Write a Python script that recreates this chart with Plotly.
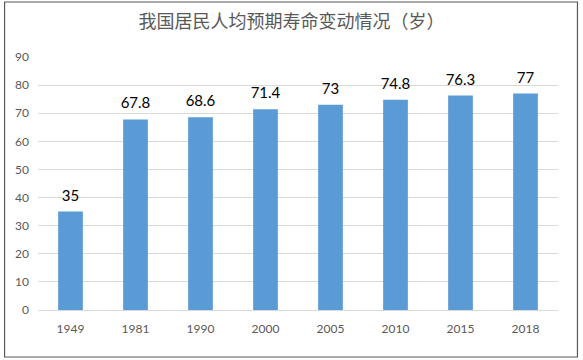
import plotly.graph_objects as go

years = ["1949", "1981", "1990", "2000", "2005", "2010", "2015", "2018"]
life_expectancy = [35, 67.8, 68.6, 71.4, 73, 74.8, 76.3, 77]
y_ticks = [0, 10, 20, 30, 40, 50, 60, 70, 80, 90]
title_text = "我国居民人均预期寿命变动情况（岁）"

W, H = 583, 360
ml, mr, mt, mb = 37.5, 24.5, 57, 50
pw = W - ml - mr
ph = H - mt - mb

def px_x(p):
    return (p - ml) / pw

def px_y(p):
    return (H - mb - p) / ph

fig = go.Figure()
fig.add_trace(go.Bar(
    x=years, y=life_expectancy,
    marker=dict(color="#5b9bd5", line=dict(width=0)),
    hoverinfo="x+y",
))
fig.add_trace(go.Scatter(
    x=years, y=life_expectancy,
    mode="markers+text",
    marker=dict(size=10, color="rgba(0,0,0,0)"),
    text=[f"{v:g}" for v in life_expectancy],
    textposition="top center",
    textfont=dict(family="Lato, Open Sans, sans-serif", size=15, color="#000000"),
    cliponaxis=False,
    hoverinfo="skip",
))

fig.update_layout(
    width=W, height=H,
    margin=dict(l=ml, r=mr, t=mt, b=mb, autoexpand=False),
    paper_bgcolor="white", plot_bgcolor="white",
    bargap=0.62,
    showlegend=False,
    title=dict(text=title_text, x=0.5, xanchor="center", y=1 - 22 / H, yanchor="middle",
               font=dict(family="Noto Sans CJK SC", size=18, color="#595959")),
    xaxis=dict(showgrid=False, showline=False, ticks="",
               tickfont=dict(family="Lato, Open Sans, sans-serif", size=12, color="#595959"),
               ticklabelstandoff=10),
    yaxis=dict(range=[0, 90], tickvals=y_ticks, showgrid=True, gridcolor="#d9d9d9", gridwidth=1,
               zeroline=True, zerolinecolor="#d9d9d9", zerolinewidth=1,
               tickfont=dict(family="Lato, Open Sans, sans-serif", size=12, color="#595959"),
               ticklabelstandoff=8),
    shapes=[dict(type="rect", xref="paper", yref="paper",
                 x0=px_x(4), x1=px_x(578), y0=px_y(357), y1=px_y(2),
                 line=dict(color="#595959", width=1.2), fillcolor="rgba(0,0,0,0)", layer="above")],
)

fig.write_html("out.html", config={"displayModeBar": False},
               post_script="document.body.style.margin='0';document.body.style.overflow='hidden';")
